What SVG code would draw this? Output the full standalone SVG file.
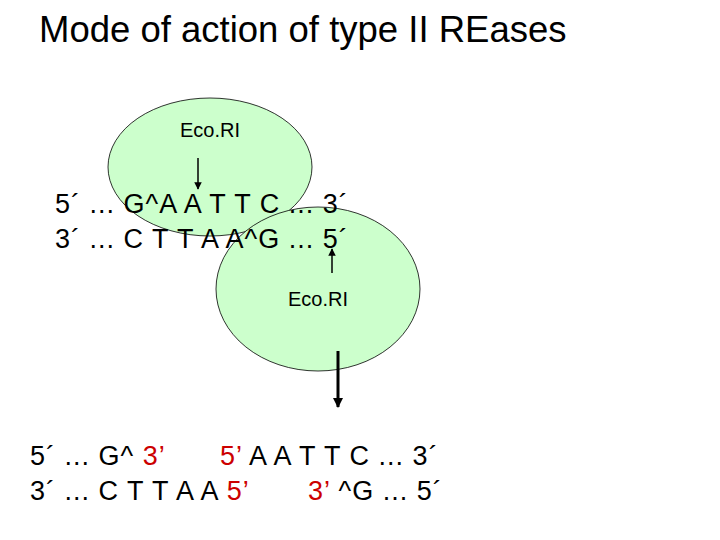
<svg xmlns="http://www.w3.org/2000/svg" width="720" height="540" viewBox="0 0 720 540">
<style>
text{font-family:"Liberation Sans",Arial,sans-serif;fill:#000}
.e{fill:#ccffcc;stroke:#000;stroke-width:0.8}
.s{font-size:27px;letter-spacing:1px}
.r{fill:#cc0000}
.l{font-size:20px}
</style>
<defs>
<marker id="a" viewBox="0 0 10 10" refX="9" refY="5" markerWidth="5" markerHeight="5" orient="auto"><path d="M0,0L10,5L0,10z" fill="#000"/></marker>
<marker id="b" viewBox="0 0 10 10" refX="9" refY="5" markerWidth="3.5" markerHeight="3.5" orient="auto"><path d="M0,0L10,5L0,10z" fill="#000"/></marker>
</defs>
<rect width="720" height="540" fill="#fff"/>
<text x="39" y="42" font-size="36.5">Mode of action of type II REases</text>
<g id="enzyme1"><ellipse class="e" cx="210" cy="167" rx="102" ry="69"/><text class="l" x="210" y="137" text-anchor="middle">Eco.RI</text></g>
<g id="enzyme2"><ellipse class="e" cx="318" cy="289" rx="102" ry="82"/><text class="l" x="318" y="306" text-anchor="middle">Eco.RI</text></g>
<g id="dna"><text class="s" x="55" y="213">5´ ... G^A A T T C ... 3´</text><text class="s" x="55" y="248">3´ ... C T T A A^G ... 5´</text></g>
<g id="connectors" stroke="#000">
<line x1="198" y1="158" x2="198" y2="189" stroke-width="1.5" marker-end="url(#a)"/>
<line x1="332" y1="273" x2="332" y2="249" stroke-width="1.5" marker-end="url(#a)"/>
<line x1="338" y1="351" x2="338" y2="407" stroke-width="3" marker-end="url(#b)"/>
</g>
<g id="products">
<text class="s" x="30" y="465">5´ ... G^ <tspan class="r">3’</tspan></text>
<text class="s" x="220" y="465"><tspan class="r">5’</tspan> A A T T C ... 3´</text>
<text class="s" x="30" y="500">3´ ... C T T A A <tspan class="r">5’</tspan></text>
<text class="s" x="308" y="500"><tspan class="r">3’</tspan> ^G ... 5´</text>
</g>
</svg>
